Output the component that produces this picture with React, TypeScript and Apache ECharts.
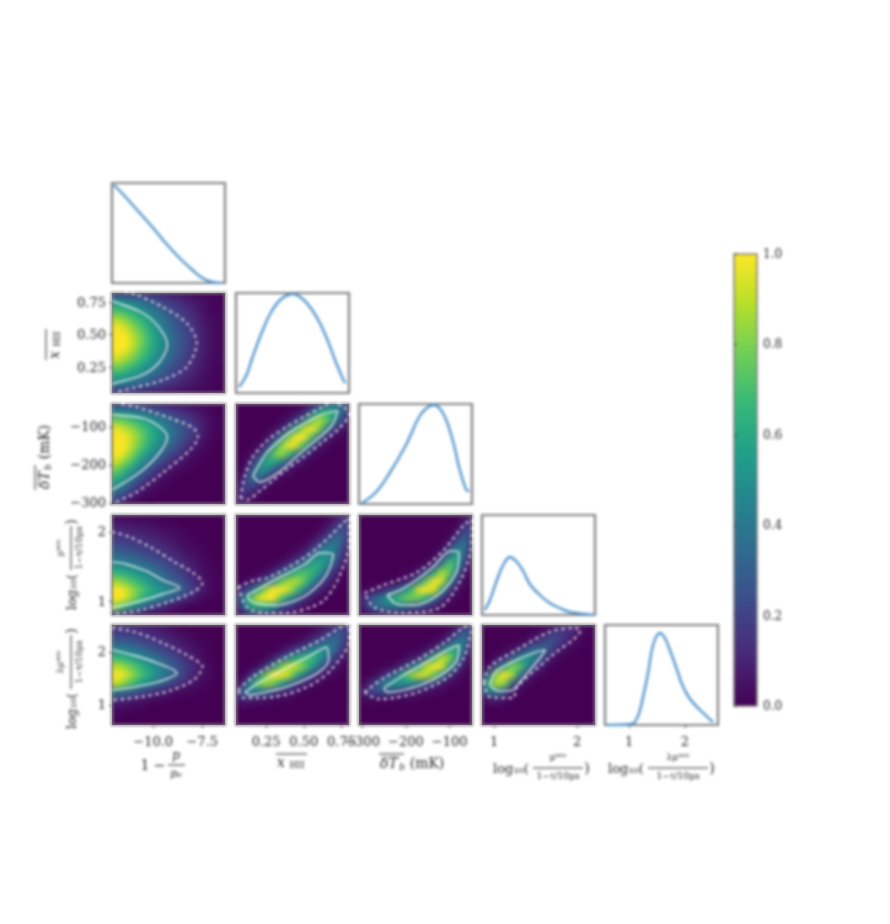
import React, { useEffect, useRef } from "react";
import * as echarts from "echarts";

const viridis = ["#440154", "#482878", "#3e4989", "#31688e", "#26828e", "#1f9e89", "#35b779", "#6ece58", "#b5de2b", "#fde725"];

// axis ranges, one for each parameter
const colRanges = [[-12.1, -6.34], [0.05, 0.8], [-307, -49], [0.855, 2.215], [0.57, 2.59]];
const rowRanges = [[0, 1], [0.05, 0.82], [-303, -40], [0.81, 2.24], [0.62, 2.51]];
const densityRange = [0, 1];
const colTicks = [[-10, -7.5], [0.25, 0.5, 0.75], [-300, -200, -100], [1, 2], [1, 2]];
const rowTicks = [[], [0.25, 0.5, 0.75], [-300, -200, -100], [1, 2], [1, 2]];
const colDigits = [1, 2, 0, 0, 0];
const rowDigits = [0, 2, 0, 0, 0];
const barTicks = [0, 0.2, 0.4, 0.6, 0.8, 1];

// one-dimensional marginals
const diag0 = [[-12, 0.98], [-11.5, 0.88], [-11, 0.77], [-10.5, 0.66], [-10, 0.55], [-9.5, 0.43], [-9, 0.32], [-8.5, 0.22], [-8, 0.13], [-7.5, 0.05], [-7, 0.01], [-6.5, 0]];
const diag1 = [[0.07, 0.06], [0.12, 0.18], [0.16, 0.36], [0.22, 0.6], [0.28, 0.8], [0.35, 0.94], [0.43, 0.99], [0.5, 0.93], [0.56, 0.82], [0.61, 0.69], [0.66, 0.52], [0.71, 0.32], [0.76, 0.14], [0.775, 0.1]];
const diag2 = [[-300, 0.01], [-270, 0.11], [-240, 0.29], [-201, 0.58], [-171, 0.86], [-155, 0.95], [-136, 0.99], [-113, 0.89], [-92, 0.62], [-78, 0.36], [-62, 0.14], [-55, 0.13]];
const diag3 = [[0.89, 0.05], [0.95, 0.15], [1.035, 0.35], [1.11, 0.5], [1.19, 0.58], [1.275, 0.53], [1.35, 0.44], [1.43, 0.31], [1.55, 0.2], [1.67, 0.12], [1.79, 0.07], [1.91, 0.03], [2.19, 0]];
const diag4 = [[0.6, 0], [1.05, 0.01], [1.16, 0.09], [1.25, 0.28], [1.34, 0.52], [1.43, 0.8], [1.55, 0.92], [1.64, 0.87], [1.73, 0.75], [1.84, 0.58], [1.96, 0.39], [2.09, 0.26], [2.27, 0.15], [2.5, 0.03]];

// two-dimensional posteriors, percent, top row first
const heatA = [
  [15, 15, 14, 12, 10, 9, 8, 6, 5, 4, 3, 2, 1, 1, 0, 0],
  [45, 44, 40, 36, 32, 27, 22, 18, 14, 11, 8, 6, 4, 2, 1, 0],
  [62, 60, 56, 50, 43, 37, 31, 25, 20, 15, 12, 8, 5, 2, 1, 1],
  [78, 76, 70, 62, 55, 47, 39, 31, 25, 19, 15, 10, 6, 3, 2, 1],
  [90, 87, 81, 72, 63, 54, 45, 36, 29, 22, 17, 12, 7, 4, 2, 1],
  [98, 95, 88, 78, 69, 59, 49, 39, 31, 24, 19, 13, 8, 4, 2, 1],
  [100, 97, 90, 80, 70, 60, 50, 40, 32, 25, 19, 13, 8, 4, 2, 1],
  [95, 92, 85, 76, 66, 57, 47, 38, 30, 24, 18, 12, 8, 4, 2, 1],
  [85, 82, 76, 68, 60, 51, 42, 34, 27, 21, 16, 11, 7, 3, 2, 1],
  [70, 68, 63, 56, 49, 42, 35, 28, 22, 17, 13, 9, 6, 3, 1, 1],
  [55, 53, 50, 44, 38, 33, 27, 22, 18, 14, 10, 7, 4, 2, 1, 1],
  [38, 37, 34, 30, 27, 23, 19, 15, 12, 9, 7, 5, 3, 2, 1, 0],
  [12, 12, 11, 10, 8, 7, 6, 5, 4, 3, 2, 2, 1, 0, 0, 0],
];
const heatB = [
  [18, 18, 17, 15, 13, 11, 9, 8, 6, 5, 4, 3, 2, 1, 0, 0],
  [45, 44, 42, 38, 34, 30, 25, 21, 17, 13, 10, 7, 4, 2, 1, 0],
  [72, 70, 66, 60, 54, 47, 41, 35, 28, 22, 17, 12, 7, 3, 1, 0],
  [88, 86, 80, 73, 65, 57, 49, 41, 33, 26, 20, 14, 8, 3, 1, 0],
  [98, 95, 88, 79, 69, 59, 50, 41, 33, 25, 18, 12, 6, 2, 1, 0],
  [100, 96, 88, 77, 66, 55, 45, 36, 28, 20, 13, 7, 3, 1, 0, 0],
  [95, 91, 82, 70, 57, 46, 36, 27, 19, 12, 7, 3, 1, 0, 0, 0],
  [85, 80, 70, 58, 45, 34, 25, 16, 10, 6, 3, 1, 0, 0, 0, 0],
  [72, 66, 56, 44, 32, 22, 14, 8, 4, 2, 1, 0, 0, 0, 0, 0],
  [60, 53, 42, 30, 20, 12, 6, 3, 1, 0, 0, 0, 0, 0, 0, 0],
  [45, 38, 28, 18, 10, 5, 2, 1, 0, 0, 0, 0, 0, 0, 0, 0],
  [30, 24, 15, 8, 3, 1, 0, 0, 0, 0, 0, 0, 0, 0, 0, 0],
  [12, 8, 4, 1, 0, 0, 0, 0, 0, 0, 0, 0, 0, 0, 0, 0],
];
const heatC = [
  [0, 0, 0, 0, 0, 0, 0, 0, 0, 1, 5, 14, 27, 32, 30, 18],
  [0, 0, 0, 0, 0, 0, 0, 1, 3, 8, 27, 48, 61, 52, 33, 12],
  [0, 0, 0, 0, 0, 0, 1, 5, 16, 32, 66, 81, 69, 42, 20, 5],
  [0, 0, 0, 0, 0, 2, 8, 26, 55, 80, 95, 74, 39, 17, 6, 1],
  [0, 0, 0, 0, 2, 13, 35, 69, 96, 98, 66, 32, 11, 3, 1, 0],
  [0, 0, 0, 2, 10, 38, 71, 92, 85, 62, 27, 8, 2, 0, 0, 0],
  [0, 0, 2, 12, 34, 67, 78, 63, 37, 19, 5, 1, 0, 0, 0, 0],
  [0, 1, 10, 31, 55, 54, 41, 21, 8, 3, 0, 0, 0, 0, 0, 0],
  [0, 3, 22, 42, 44, 26, 13, 5, 1, 0, 0, 0, 0, 0, 0, 0],
  [1, 9, 30, 29, 18, 5, 1, 0, 0, 0, 0, 0, 0, 0, 0, 0],
  [2, 15, 19, 10, 3, 0, 0, 0, 0, 0, 0, 0, 0, 0, 0, 0],
  [4, 12, 7, 2, 0, 0, 0, 0, 0, 0, 0, 0, 0, 0, 0, 0],
  [5, 5, 1, 0, 0, 0, 0, 0, 0, 0, 0, 0, 0, 0, 0, 0],
];
const heatD = [
  [2, 2, 2, 1, 1, 1, 1, 0, 0, 0, 0, 0, 0, 0, 0, 0],
  [6, 6, 5, 4, 4, 3, 2, 1, 1, 0, 0, 0, 0, 0, 0, 0],
  [12, 11, 10, 9, 8, 7, 5, 4, 3, 2, 1, 0, 0, 0, 0, 0],
  [17, 16, 15, 14, 12, 10, 9, 7, 5, 3, 2, 1, 0, 0, 0, 0],
  [24, 23, 21, 19, 17, 15, 13, 10, 8, 6, 3, 2, 1, 0, 0, 0],
  [33, 32, 30, 27, 24, 21, 18, 15, 12, 9, 6, 4, 2, 1, 0, 0],
  [45, 43, 40, 37, 33, 29, 25, 21, 17, 13, 9, 6, 3, 1, 0, 0],
  [60, 58, 54, 49, 44, 39, 33, 28, 23, 18, 13, 8, 4, 2, 1, 0],
  [78, 75, 69, 62, 55, 48, 41, 35, 29, 24, 17, 11, 6, 2, 1, 0],
  [96, 92, 84, 74, 65, 57, 50, 44, 38, 31, 22, 13, 7, 3, 1, 0],
  [100, 94, 84, 71, 60, 50, 42, 34, 26, 18, 11, 6, 2, 1, 0, 0],
  [78, 70, 58, 46, 34, 24, 16, 10, 6, 3, 1, 0, 0, 0, 0, 0],
  [25, 18, 10, 6, 3, 1, 0, 0, 0, 0, 0, 0, 0, 0, 0, 0],
];
const heatE = [
  [0, 0, 0, 0, 0, 0, 0, 0, 0, 0, 0, 0, 0, 3, 9, 12],
  [0, 0, 0, 0, 0, 0, 0, 0, 0, 0, 0, 0, 2, 9, 18, 15],
  [0, 0, 0, 0, 0, 0, 0, 0, 0, 0, 0, 2, 8, 19, 25, 15],
  [0, 0, 0, 0, 0, 0, 0, 0, 0, 0, 3, 10, 21, 33, 28, 12],
  [0, 0, 0, 0, 0, 0, 0, 0, 1, 3, 13, 27, 38, 40, 23, 7],
  [0, 0, 0, 0, 0, 0, 0, 2, 6, 14, 31, 45, 47, 36, 16, 3],
  [0, 0, 0, 0, 0, 1, 5, 12, 26, 38, 55, 55, 43, 24, 8, 1],
  [0, 0, 0, 1, 4, 11, 26, 43, 60, 66, 61, 45, 27, 11, 3, 0],
  [1, 1, 4, 11, 25, 41, 67, 77, 80, 68, 47, 27, 13, 4, 1, 0],
  [5, 13, 27, 52, 76, 91, 95, 84, 64, 43, 23, 10, 4, 1, 0, 0],
  [12, 34, 63, 85, 94, 91, 67, 48, 30, 16, 7, 2, 1, 0, 0, 0],
  [8, 27, 52, 58, 55, 49, 26, 17, 9, 4, 2, 0, 0, 0, 0, 0],
  [2, 6, 15, 14, 13, 11, 5, 3, 1, 1, 0, 0, 0, 0, 0, 0],
];
const heatF = [
  [10, 10, 9, 8, 7, 6, 5, 3, 2, 1, 0, 0, 0, 0, 0, 0],
  [17, 17, 16, 15, 13, 11, 9, 7, 5, 3, 2, 1, 0, 0, 0, 0],
  [27, 26, 25, 23, 20, 17, 14, 11, 9, 6, 4, 2, 1, 0, 0, 0],
  [42, 41, 38, 34, 30, 26, 22, 18, 14, 10, 7, 4, 2, 1, 0, 0],
  [62, 60, 56, 50, 44, 38, 32, 26, 21, 16, 11, 7, 3, 1, 0, 0],
  [82, 79, 73, 65, 57, 49, 41, 34, 27, 21, 15, 9, 5, 2, 1, 0],
  [97, 92, 83, 73, 63, 54, 45, 37, 29, 22, 14, 8, 4, 2, 0, 0],
  [85, 80, 71, 60, 50, 41, 33, 26, 19, 13, 8, 4, 2, 1, 0, 0],
  [42, 39, 33, 27, 21, 16, 12, 8, 5, 3, 2, 1, 0, 0, 0, 0],
  [13, 11, 9, 7, 5, 3, 2, 1, 0, 0, 0, 0, 0, 0, 0, 0],
  [3, 3, 2, 1, 1, 0, 0, 0, 0, 0, 0, 0, 0, 0, 0, 0],
  [1, 1, 0, 0, 0, 0, 0, 0, 0, 0, 0, 0, 0, 0, 0, 0],
  [0, 0, 0, 0, 0, 0, 0, 0, 0, 0, 0, 0, 0, 0, 0, 0],
];
const heatG = [
  [0, 0, 0, 0, 0, 0, 0, 0, 0, 0, 0, 1, 3, 9, 17, 12],
  [0, 0, 0, 0, 0, 0, 0, 0, 0, 0, 3, 7, 14, 23, 25, 11],
  [0, 0, 0, 0, 0, 0, 0, 0, 2, 5, 12, 22, 31, 34, 24, 7],
  [0, 0, 0, 0, 0, 0, 2, 8, 16, 26, 40, 46, 43, 32, 15, 3],
  [0, 0, 0, 0, 1, 7, 22, 39, 55, 62, 62, 50, 31, 17, 6, 1],
  [0, 0, 0, 3, 14, 40, 68, 82, 82, 70, 51, 32, 14, 7, 2, 0],
  [0, 0, 10, 33, 67, 94, 99, 82, 59, 39, 21, 10, 3, 2, 0, 0],
  [1, 11, 44, 68, 78, 71, 54, 34, 20, 10, 4, 2, 0, 0, 0, 0],
  [8, 30, 40, 37, 32, 22, 13, 8, 4, 1, 0, 0, 0, 0, 0, 0],
  [6, 8, 7, 5, 3, 2, 1, 1, 0, 0, 0, 0, 0, 0, 0, 0],
  [0, 0, 0, 0, 0, 0, 0, 0, 0, 0, 0, 0, 0, 0, 0, 0],
  [0, 0, 0, 0, 0, 0, 0, 0, 0, 0, 0, 0, 0, 0, 0, 0],
  [0, 0, 0, 0, 0, 0, 0, 0, 0, 0, 0, 0, 0, 0, 0, 0],
];
const heatH = [
  [0, 0, 0, 0, 0, 0, 0, 0, 0, 0, 0, 0, 0, 0, 3, 9],
  [0, 0, 0, 0, 0, 0, 0, 0, 0, 0, 0, 0, 0, 0, 10, 15],
  [0, 0, 0, 0, 0, 0, 0, 0, 0, 0, 0, 0, 0, 5, 20, 18],
  [0, 0, 0, 0, 0, 0, 0, 0, 0, 0, 0, 0, 4, 18, 31, 16],
  [0, 0, 0, 0, 0, 0, 0, 0, 0, 0, 0, 2, 17, 39, 35, 9],
  [0, 0, 0, 0, 0, 0, 0, 0, 0, 0, 1, 12, 39, 53, 27, 4],
  [0, 0, 0, 0, 0, 0, 0, 0, 1, 3, 14, 43, 68, 50, 15, 1],
  [0, 0, 0, 0, 0, 0, 1, 1, 9, 25, 55, 81, 68, 31, 6, 0],
  [0, 0, 0, 0, 1, 2, 7, 14, 41, 70, 95, 84, 44, 14, 2, 0],
  [1, 1, 4, 8, 16, 22, 41, 61, 87, 97, 86, 48, 17, 4, 0, 0],
  [5, 13, 26, 37, 48, 58, 67, 71, 68, 56, 35, 14, 4, 1, 0, 0],
  [3, 15, 29, 34, 37, 38, 35, 28, 25, 16, 9, 3, 1, 0, 0, 0],
  [0, 2, 6, 6, 7, 6, 5, 3, 3, 2, 1, 0, 0, 0, 0, 0],
];
const heatI = [
  [0, 0, 0, 0, 0, 0, 0, 0, 0, 0, 0, 0, 0, 3, 14, 17],
  [0, 0, 0, 0, 0, 0, 0, 0, 0, 0, 0, 0, 4, 15, 29, 17],
  [0, 0, 0, 0, 0, 0, 0, 0, 0, 0, 1, 6, 19, 37, 35, 11],
  [0, 0, 0, 0, 0, 0, 0, 0, 1, 4, 14, 34, 55, 55, 27, 4],
  [0, 0, 0, 0, 0, 0, 1, 5, 11, 32, 61, 82, 75, 43, 12, 1],
  [0, 0, 0, 0, 1, 4, 15, 32, 52, 82, 99, 87, 50, 21, 4, 0],
  [0, 0, 1, 7, 19, 33, 57, 74, 84, 82, 68, 40, 15, 5, 1, 0],
  [1, 4, 15, 34, 45, 51, 47, 45, 37, 26, 17, 8, 2, 1, 0, 0],
  [4, 12, 22, 24, 23, 17, 12, 10, 6, 4, 2, 1, 0, 0, 0, 0],
  [1, 2, 3, 2, 2, 1, 1, 1, 0, 0, 0, 0, 0, 0, 0, 0],
  [0, 0, 0, 0, 0, 0, 0, 0, 0, 0, 0, 0, 0, 0, 0, 0],
  [0, 0, 0, 0, 0, 0, 0, 0, 0, 0, 0, 0, 0, 0, 0, 0],
  [0, 0, 0, 0, 0, 0, 0, 0, 0, 0, 0, 0, 0, 0, 0, 0],
];
const heatJ = [
  [0, 0, 0, 0, 0, 0, 0, 0, 0, 2, 6, 8, 8, 6, 2, 0],
  [0, 0, 0, 0, 0, 0, 0, 2, 4, 12, 17, 15, 10, 4, 1, 0],
  [0, 0, 0, 0, 0, 1, 4, 12, 18, 24, 19, 11, 5, 1, 0, 0],
  [0, 0, 0, 1, 4, 11, 24, 35, 33, 22, 9, 3, 1, 0, 0, 0],
  [0, 0, 4, 11, 27, 45, 50, 39, 22, 7, 2, 0, 0, 0, 0, 0],
  [0, 4, 25, 46, 71, 68, 43, 19, 7, 1, 0, 0, 0, 0, 0, 0],
  [6, 31, 75, 97, 79, 41, 14, 3, 1, 0, 0, 0, 0, 0, 0, 0],
  [24, 60, 83, 75, 32, 9, 2, 0, 0, 0, 0, 0, 0, 0, 0, 0],
  [18, 37, 41, 28, 7, 1, 0, 0, 0, 0, 0, 0, 0, 0, 0, 0],
  [2, 7, 7, 3, 1, 0, 0, 0, 0, 0, 0, 0, 0, 0, 0, 0],
  [0, 0, 0, 0, 0, 0, 0, 0, 0, 0, 0, 0, 0, 0, 0, 0],
  [0, 0, 0, 0, 0, 0, 0, 0, 0, 0, 0, 0, 0, 0, 0, 0],
  [0, 0, 0, 0, 0, 0, 0, 0, 0, 0, 0, 0, 0, 0, 0, 0],
];

// contour levels, in the units of each panel's axes
const innerA = [[-12.1, 0.76], [-11.93, 0.75], [-10.54, 0.666], [-9.68, 0.55], [-9.28, 0.42], [-9.68, 0.289], [-10.54, 0.189], [-11.93, 0.127], [-12.1, 0.12]];
const outerA = [[-11.8, 0.84], [-10.83, 0.805], [-9.51, 0.712], [-8.3, 0.589], [-7.78, 0.435], [-8.3, 0.25], [-9.51, 0.15], [-11, 0.09], [-11.87, 0.058]];
const innerB = [[-12.1, -68], [-11.93, -69], [-10.54, -77], [-9.68, -100], [-9.28, -127], [-9.68, -169], [-10.66, -219], [-11.93, -261], [-12.1, -265]];
const outerB = [[-11.6, -40], [-10.83, -48], [-9.16, -77], [-7.95, -103], [-7.72, -127], [-8.13, -161], [-9.51, -221], [-10.83, -271], [-11.93, -298]];
const innerC = [[0.1625, -229], [0.2525, -169], [0.3425, -135], [0.4325, -108], [0.6125, -69], [0.725, -58], [0.68, -100], [0.5, -161], [0.3275, -221], [0.2075, -245], [0.1625, -229]];
const outerC = [[0.08, -287], [0.11, -229], [0.1625, -179], [0.26, -135], [0.3875, -100], [0.5, -74], [0.6125, -51], [0.6875, -35], [0.8, -66], [0.725, -108], [0.6125, -143], [0.5, -179], [0.3875, -211], [0.2975, -240], [0.2, -271], [0.125, -292], [0.08, -287]];
const innerD = [[-12.1, 1.57], [-11.41, 1.54], [-10.37, 1.44], [-9.51, 1.31], [-8.64, 1.2], [-9.51, 1.11], [-10.66, 1.01], [-12.1, 0.91]];
const outerD = [[-12.1, 2.0], [-11.24, 1.93], [-10.08, 1.77], [-8.93, 1.57], [-7.95, 1.41], [-7.49, 1.27], [-7.95, 1.14], [-9.22, 1.0], [-10.66, 0.88], [-12.1, 0.82]];
const innerE = [[0.125, 1.096], [0.2, 1.18], [0.2975, 1.3], [0.5, 1.525], [0.6125, 1.7], [0.695, 1.67], [0.65, 1.38], [0.5375, 1.125], [0.425, 1.0], [0.32, 0.95], [0.2, 0.97], [0.14, 1.02], [0.125, 1.096]];
const outerE = [[0.065, 1.21], [0.1625, 1.3], [0.26, 1.34], [0.3875, 1.48], [0.5, 1.625], [0.59, 1.77], [0.68, 1.95], [0.7625, 2.13], [0.8, 2.2], [0.8, 1.84], [0.725, 1.31], [0.635, 1.02], [0.545, 0.92], [0.3875, 0.84], [0.2375, 0.84], [0.125, 0.92], [0.065, 1.21]];
const innerF = [[-12.1, 2.04], [-11.24, 1.96], [-10.08, 1.83], [-8.79, 1.6], [-9.8, 1.43], [-10.95, 1.34], [-12.1, 1.28]];
const outerF = [[-12.1, 2.45], [-10.95, 2.38], [-9.51, 2.17], [-8.18, 1.92], [-7.49, 1.72], [-7.95, 1.47], [-9.22, 1.26], [-10.66, 1.15], [-12.1, 1.09]];
const innerG = [[0.11, 1.24], [0.2, 1.41], [0.3875, 1.7], [0.5375, 1.92], [0.65, 2.09], [0.665, 1.85], [0.59, 1.6], [0.425, 1.38], [0.275, 1.26], [0.14, 1.19], [0.11, 1.24]];
const outerG = [[0.065, 1.28], [0.1625, 1.53], [0.3875, 1.91], [0.6125, 2.23], [0.7475, 2.47], [0.8, 2.51], [0.8, 2.23], [0.68, 1.66], [0.5225, 1.34], [0.2975, 1.15], [0.1025, 1.13], [0.065, 1.28]];
const innerH = [[-242.5, 1.096], [-211.5, 1.17], [-178, 1.3], [-137, 1.5], [-98, 1.725], [-79, 1.71], [-83, 1.45], [-113.5, 1.17], [-152, 1.0], [-183, 0.95], [-222, 0.97], [-242.5, 1.096]];
const outerH = [[-294, 1.125], [-250, 1.24], [-173, 1.425], [-113.5, 1.74], [-67, 2.1], [-49, 2.17], [-52, 1.74], [-75, 1.31], [-121, 0.92], [-204, 0.84], [-273, 0.92], [-294, 1.125]];
const innerI = [[-250, 1.32], [-204, 1.565], [-152, 1.81], [-100, 2.06], [-79, 2.13], [-83, 1.85], [-113.5, 1.6], [-165, 1.38], [-217, 1.26], [-242.5, 1.24], [-250, 1.32]];
const outerI = [[-294, 1.24], [-250, 1.51], [-173, 1.85], [-113.5, 2.17], [-67, 2.47], [-49, 2.51], [-52, 2.36], [-67, 1.9], [-103, 1.53], [-173, 1.24], [-230, 1.13], [-263, 1.11], [-294, 1.24]];
const innerJ = [[0.95, 1.376], [1.02, 1.62], [1.195, 1.79], [1.467, 1.98], [1.617, 2.04], [1.56, 1.9], [1.4, 1.6], [1.263, 1.34], [1.229, 1.28], [1.059, 1.26], [0.95, 1.376]];
const outerJ = [[0.88, 1.43], [0.95, 1.72], [1.277, 2.04], [1.671, 2.38], [1.957, 2.45], [2.04, 2.42], [1.671, 1.9], [1.277, 1.34], [1.229, 1.13], [0.95, 1.15], [0.88, 1.43]];

const diagonals = [diag0, diag1, diag2, diag3, diag4];
const panels = [
  { row: 1, col: 0, heat: heatA, inner: innerA, outer: outerA },
  { row: 2, col: 0, heat: heatB, inner: innerB, outer: outerB },
  { row: 2, col: 1, heat: heatC, inner: innerC, outer: outerC },
  { row: 3, col: 0, heat: heatD, inner: innerD, outer: outerD },
  { row: 3, col: 1, heat: heatE, inner: innerE, outer: outerE },
  { row: 3, col: 2, heat: heatH, inner: innerH, outer: outerH },
  { row: 4, col: 0, heat: heatF, inner: innerF, outer: outerF },
  { row: 4, col: 1, heat: heatG, inner: innerG, outer: outerG },
  { row: 4, col: 2, heat: heatI, inner: innerI, outer: outerI },
  { row: 4, col: 3, heat: heatJ, inner: innerJ, outer: outerJ },
];

const colLeft = [112, 236, 359, 482, 605];
const rowTop = [183, 293, 404, 515, 625];
const panelW = 113;
const panelH = 100;
const heatPad = 4;
const FONT = "DejaVu Serif";
const INK = "#222";
const FRAME = "#7c7c7c";

function tickText(v: number, digits: number) {
  return v.toFixed(digits).replace("-", "\u2212");
}

// the colour fields sit on their own softly blurred layer
function buildHeatOption() {
  const grid: any[] = [];
  const xAxis: any[] = [];
  const yAxis: any[] = [];
  const series: any[] = [];
  panels.forEach((p, k) => {
    grid.push({
      left: colLeft[p.col] - heatPad, top: rowTop[p.row] - heatPad,
      width: panelW + 2 * heatPad, height: panelH + 2 * heatPad,
      show: true, backgroundColor: viridis[0], borderWidth: 0,
    });
    xAxis.push({ type: "category", gridIndex: k, show: false, data: p.heat[0].map((_, i) => String(i)) });
    yAxis.push({ type: "category", gridIndex: k, show: false, inverse: true, data: p.heat.map((_, i) => String(i)) });
    const data: number[][] = [];
    p.heat.forEach((r, j) => r.forEach((v, i) => { if (v > 0) data.push([i, j, v / 100]); }));
    series.push({ type: "heatmap", xAxisIndex: k, yAxisIndex: k, data, silent: true, progressive: 0 });
  });
  return {
    animation: false,
    grid, xAxis, yAxis, series,
    visualMap: [{
      type: "continuous", min: 0, max: 0.9, dimension: 2, show: false,
      inRange: { color: viridis },
    }],
  };
}

function heatClip() {
  return "path('" + panels.map((p) => {
    const l = colLeft[p.col];
    const t = rowTop[p.row];
    return `M${l} ${t}H${l + panelW}V${t + panelH}H${l}Z`;
  }).join("") + "')";
}

function buildTopOption() {
  const grid: any[] = [];
  const xAxis: any[] = [];
  const yAxis: any[] = [];
  const series: any[] = [];

  const addPanel = (row: number, col: number, yRange: number[]) => {
    const bottomRow = row === 4;
    const leftCol = col === 0 && row > 0;
    grid.push({
      left: colLeft[col], top: rowTop[row], width: panelW, height: panelH,
      show: true, backgroundColor: "transparent", borderColor: FRAME, borderWidth: 2.2,
    });
    const g = grid.length - 1;
    xAxis.push({
      type: "value", gridIndex: g, position: "bottom", min: colRanges[col][0], max: colRanges[col][1],
      axisLine: { show: false }, splitLine: { show: false },
      axisTick: { show: bottomRow, length: 3, lineStyle: { color: INK, width: 0.8 }, customValues: colTicks[col] },
      axisLabel: {
        show: bottomRow, margin: 10, fontFamily: FONT, fontSize: 13, color: INK,
        customValues: colTicks[col], formatter: (v: number) => tickText(v, colDigits[col]),
      },
    });
    yAxis.push({
      type: "value", gridIndex: g, position: "left", min: yRange[0], max: yRange[1],
      axisLine: { show: false }, splitLine: { show: false },
      axisTick: { show: leftCol, length: 3, lineStyle: { color: INK, width: 0.8 }, customValues: rowTicks[row] },
      axisLabel: {
        show: leftCol, margin: 6, fontFamily: FONT, fontSize: 13, color: INK,
        customValues: rowTicks[row], formatter: (v: number) => tickText(v, rowDigits[row]),
      },
    });
    return g;
  };

  diagonals.forEach((points, i) => {
    const g = addPanel(i, i, densityRange);
    series.push({
      type: "line", xAxisIndex: g, yAxisIndex: g, data: points, smooth: 0.35, showSymbol: false, silent: true,
      lineStyle: { color: "#4f93cc", width: 2.4 },
    });
  });

  panels.forEach((p) => {
    const g = addPanel(p.row, p.col, rowRanges[p.row]);
    series.push({
      type: "line", xAxisIndex: g, yAxisIndex: g, data: p.inner, smooth: 0.3, showSymbol: false, silent: true, z: 5,
      lineStyle: { color: "rgba(240,250,245,0.95)", width: 1.4 },
    });
    series.push({
      type: "line", xAxisIndex: g, yAxisIndex: g, data: p.outer, smooth: 0.3, showSymbol: false, silent: true, z: 5,
      lineStyle: { color: "#fbf2fb", width: 1.9, type: [3, 4] },
    });
  });

  const barGrid = grid.push({
    left: 734, top: 254, width: 23, height: 452, show: true, z: 10,
    backgroundColor: "transparent", borderColor: FRAME, borderWidth: 1.5,
  }) - 1;
  xAxis.push({ type: "value", gridIndex: barGrid, show: false, min: 0, max: 1 });
  yAxis.push({
    type: "value", gridIndex: barGrid, position: "right", min: 0, max: 1, z: 10,
    axisLine: { show: false }, splitLine: { show: false },
    axisTick: { show: true, length: 3, lineStyle: { color: INK, width: 0.8 }, customValues: barTicks },
    axisLabel: {
      margin: 6, fontFamily: FONT, fontSize: 12, color: INK,
      customValues: barTicks, formatter: (v: number) => v.toFixed(1),
    },
  });

  return {
    animation: false,
    backgroundColor: "transparent",
    grid, xAxis, yAxis, series,
    visualMap: [{
      type: "continuous", min: 0, max: 1, dimension: 2, seriesIndex: [],
      left: 734, top: 254, itemWidth: 23, itemHeight: 452, padding: 0,
      calculable: false, hoverLink: false, showLabel: false, text: null,
      inRange: { color: viridis },
    }],
    graphic: { elements: labels() },
  };
}

function txt(text: string, x: number, y: number, size: number, italic = false) {
  return {
    type: "text", x, y, silent: true,
    style: { text, fill: INK, font: `${italic ? "italic " : ""}${size}px "${FONT}"`, textAlign: "center", textVerticalAlign: "middle" },
  };
}
function bar(x1: number, x2: number, y: number) {
  return {
    type: "line", silent: true,
    shape: { x1, y1: y, x2, y2: y },
    style: { stroke: INK, lineWidth: 1 },
  };
}
function pFrac(x: number, y: number) {
  return {
    type: "group", x, y, silent: true,
    children: [
      txt("1 \u2212", -15, 0, 14),
      txt("p", 8, -10, 12, true), bar(0, 17, 0), txt("p\u2080", 8, 8, 11, true),
    ],
  };
}
function logFrac(x: number, y: number, rotation: number, num: string, den: string, w: number) {
  return {
    type: "group", x, y, rotation, silent: true,
    children: [
      txt("log\u2081\u2080(", -w / 2 - 22, 0, 13),
      txt(num, 0, -11, 9), bar(-w / 2, w / 2, 0), txt(den, 0, 8, 9),
      txt(")", w / 2 + 4, 0, 14),
    ],
  };
}
function xhii(x: number, y: number, rotation: number) {
  return {
    type: "group", x, y, rotation, silent: true,
    children: [txt("x", -11, 0, 14, true), txt("HII", 5, 3, 9), bar(-16, 15, -8)],
  };
}
function dTb(x: number, y: number, rotation: number) {
  return {
    type: "group", x, y, rotation, silent: true,
    children: [txt("\u03B4T", -25, 0, 14, true), txt("b", -12, 4, 9, true), bar(-35, -10, -9), txt("(mK)", 13, 0, 14)],
  };
}

function labels() {
  const up = Math.PI / 2;
  const numA = "\u03BC\u1D50\u2071\u207F";
  const denA = "1\u2212\u03C4/10\u03BCs";
  const numB = "\u03BB\u03BC\u1D50\u2071\u207F";
  return [
    pFrac(168, 765),
    xhii(292, 762, 0),
    dTb(414, 763, 0),
    logFrac(558, 768, 0, numA, denA, 50),
    logFrac(678, 768, 0, numB, denA, 60),
    xhii(54, 344, up),
    dTb(44, 455, up),
    logFrac(71, 548, up, numA, denA, 44),
    logFrac(71, 662, up, numB, denA, 54),
  ];
}

export default function App() {
  const heatRef = useRef<HTMLDivElement>(null);
  const topRef = useRef<HTMLDivElement>(null);
  useEffect(() => {
    const heat = echarts.init(heatRef.current!, undefined, { renderer: "svg" });
    heat.setOption(buildHeatOption() as any);
    const top = echarts.init(topRef.current!, undefined, { renderer: "svg" });
    top.setOption(buildTopOption() as any);
    return () => {
      heat.dispose();
      top.dispose();
    };
  }, []);
  const box = { position: "fixed", left: 0, top: 0, width: 890, height: 924 } as const;
  return (
    <>
      <div ref={heatRef} style={{ ...box, filter: "blur(3.2px)", clipPath: heatClip() }} />
      <div ref={topRef} style={{ ...box, filter: "blur(1.5px)" }} />
    </>
  );
}
